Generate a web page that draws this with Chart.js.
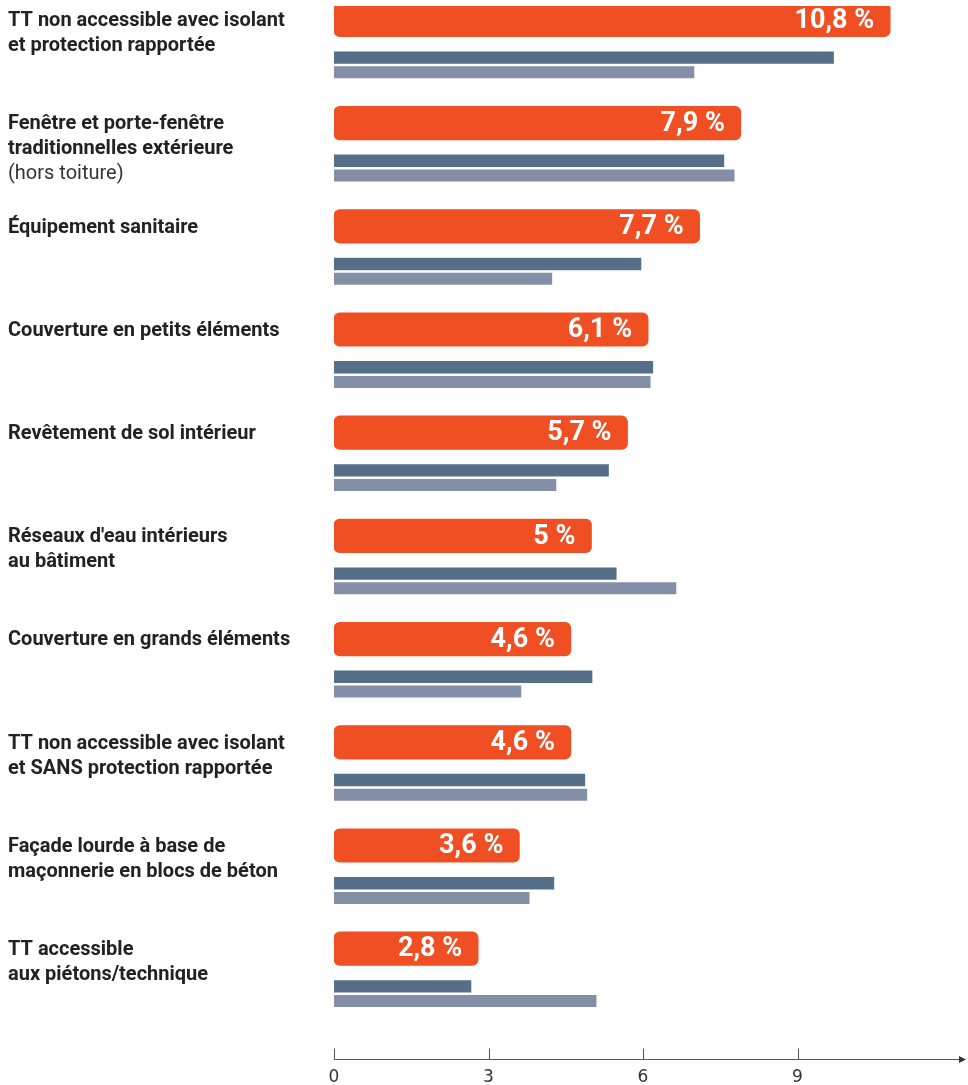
<!DOCTYPE html>
<html lang="fr">
<head>
<meta charset="utf-8">
<title>Ouvrages sinistrés</title>
<script src="https://cdn.jsdelivr.net/npm/chart.js@4.4.1/dist/chart.umd.min.js"></script>
<style>
  html, body { margin: 0; padding: 0; background: #fff; }
  #wrap { position: relative; width: 968px; height: 1085px; }
</style>
</head>
<body>
<div id="wrap"><canvas id="chart"></canvas></div>
<script>
// catégories (une ligne par entrée, "(...)" en maigre)
const categories = [
    ['TT non accessible avec isolant', 'et protection rapportée'],
    ['Fenêtre et porte-fenêtre', 'traditionnelles extérieure', '(hors toiture)'],
    ['Équipement sanitaire'],
    ['Couverture en petits éléments'],
    ['Revêtement de sol intérieur'],
    ["Réseaux d'eau intérieurs", 'au bâtiment'],
    ['Couverture en grands éléments'],
    ['TT non accessible avec isolant', 'et SANS protection rapportée'],
    ['Façade lourde à base de', 'maçonnerie en blocs de béton'],
    ['TT accessible', 'aux piétons/technique']
];

// barre orange (longueur) + texte affiché dedans
const shareValues = [10.8, 7.9, 7.1, 6.1, 5.7, 5.0, 4.6, 4.6, 3.6, 2.8];
const shareLabels = ['10,8 %', '7,9 %', '7,7 %', '6,1 %', '5,7 %', '5 %', '4,6 %', '4,6 %', '3,6 %', '2,8 %'];

// barres grises
const darkValues = [9.7, 7.57, 5.96, 6.19, 5.33, 5.48, 5.01, 4.87, 4.27, 2.66];
const lightValues = [6.99, 7.77, 4.23, 6.14, 4.31, 6.64, 3.63, 4.91, 3.79, 5.09];

const xTicks = [0, 3, 6, 9];

const FONT = 'Roboto, "Noto Sans", sans-serif';

// textes : valeurs dans les barres orange + libellés à gauche
const labelPlugin = {
    id: 'sideLabels',
    afterDatasetsDraw(chart) {
        const ctx = chart.ctx;
        const orange = chart.getDatasetMeta(0);
        ctx.save();

        ctx.fillStyle = '#fff';
        ctx.font = `bold 27px ${FONT}`;
        ctx.textAlign = 'right';
        ctx.textBaseline = 'middle';
        orange.data.forEach((bar, i) => {
            ctx.fillText(shareLabels[i], bar.x - 16, bar.y + 1);
        });

        ctx.textAlign = 'left';
        ctx.textBaseline = 'alphabetic';
        orange.data.forEach((bar, i) => {
            const top = bar.y - bar.height / 2;
            categories[i].forEach((line, j) => {
                const note = line.startsWith('(');
                ctx.font = (note ? '' : 'bold ') + `20px ${FONT}`;
                ctx.fillStyle = note ? '#333' : '#222';
                ctx.fillText(line, 8, top + 23 + j * 25);
            });
        });
        ctx.restore();
    }
};

// axe horizontal avec flèche
const axisPlugin = {
    id: 'arrowAxis',
    afterDraw(chart) {
        const { ctx, chartArea } = chart;
        const x = chart.scales.x;
        const yLine = Math.round(chartArea.bottom + 21) + 0.5;
        const x0 = Math.round(x.getPixelForValue(0)) + 0.5;
        const xEnd = chart.width - 2;
        ctx.save();
        ctx.strokeStyle = '#555';
        ctx.lineWidth = 1;
        ctx.beginPath();
        ctx.moveTo(x0, yLine);
        ctx.lineTo(xEnd - 5, yLine);
        xTicks.forEach(v => {
            const px = Math.round(x.getPixelForValue(v)) + 0.5;
            ctx.moveTo(px, yLine - 11);
            ctx.lineTo(px, yLine);
        });
        ctx.stroke();
        ctx.fillStyle = '#333';
        ctx.beginPath();
        ctx.moveTo(xEnd, yLine);
        ctx.lineTo(xEnd - 7, yLine - 3.5);
        ctx.lineTo(xEnd - 7, yLine + 3.5);
        ctx.closePath();
        ctx.fill();
        ctx.restore();
    }
};

new Chart(document.getElementById('chart'), {
    type: 'bar',
    data: {
        labels: categories,
        datasets: [
            { data: shareValues, backgroundColor: '#F04F23', barThickness: 37.7, maxBarThickness: 33.5, borderRadius: 6, borderSkipped: false },
            { data: darkValues, backgroundColor: '#566F88', barThickness: 12, maxBarThickness: 11.7, borderRadius: 0 },
            { data: lightValues, backgroundColor: '#838FA6', barThickness: 14.7, maxBarThickness: 11.3, borderRadius: 0 }
        ]
    },
    options: {
        indexAxis: 'y',
        responsive: true,
        maintainAspectRatio: false,
        animation: false,
        devicePixelRatio: 1,
        layout: { padding: { left: 334, right: 16, top: 6, bottom: 0 } },
        plugins: { legend: { display: false }, tooltip: { enabled: false } },
        scales: {
            y: { display: false, offset: true, grid: { display: false } },
            x: {
                min: 0, max: 12,
                grid: { display: false, drawTicks: true, tickLength: 29 },
                border: { display: false },
                ticks: { padding: 0, color: '#333', font: { family: '"DejaVu Sans", sans-serif', size: 17 } },
                afterBuildTicks: s => { s.ticks = xTicks.map(v => ({ value: v })); },
                afterFit: s => { s.height = 47; }
            }
        }
    },
    plugins: [labelPlugin, axisPlugin]
});
</script>
</body>
</html>
